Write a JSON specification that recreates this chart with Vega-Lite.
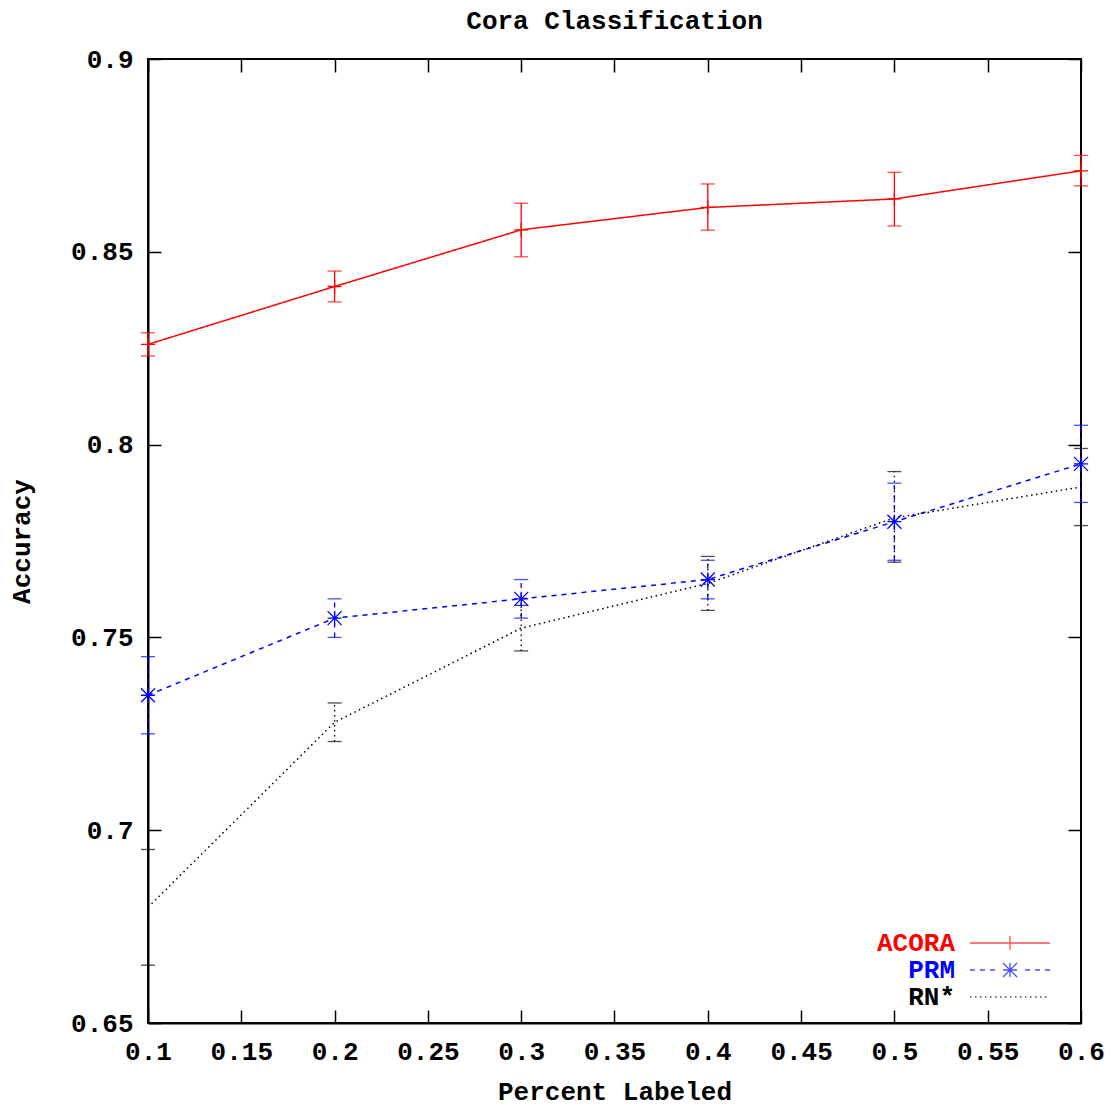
{
  "$schema": "https://vega.github.io/schema/vega-lite/v6.json",
  "width": 933,
  "height": 964,
  "autosize": {"type": "none"},
  "padding": {"left": 148, "top": 59, "right": 38, "bottom": 85},
  "background": "white",
  "title": {"text": "Cora Classification", "font": "Liberation Mono", "fontSize": 26, "fontWeight": "bold", "color": "black", "anchor": "middle", "offset": 12},
  "config": {
    "view": {"stroke": "black", "strokeWidth": 2},
    "axis": {"labelFont": "Liberation Mono", "labelFontSize": 26, "labelFontWeight": "bold", "labelColor": "black", "titleFont": "Liberation Mono", "titleFontSize": 26, "titleFontWeight": "bold", "titleColor": "black", "grid": false, "tickColor": "black", "tickWidth": 1.5, "domainColor": "black", "domainWidth": 2}
  },
  "data": {"values": [
    {"series": "ACORA", "x": 0.1, "y": 0.826, "lo": 0.823, "hi": 0.829},
    {"series": "ACORA", "x": 0.2, "y": 0.841, "lo": 0.837, "hi": 0.845},
    {"series": "ACORA", "x": 0.3, "y": 0.8557, "lo": 0.8487, "hi": 0.8626},
    {"series": "ACORA", "x": 0.4, "y": 0.8615, "lo": 0.8556, "hi": 0.8676},
    {"series": "ACORA", "x": 0.5, "y": 0.8637, "lo": 0.8567, "hi": 0.8706},
    {"series": "ACORA", "x": 0.6, "y": 0.871, "lo": 0.8671, "hi": 0.875},
    {"series": "PRM", "x": 0.1, "y": 0.735, "lo": 0.725, "hi": 0.745},
    {"series": "PRM", "x": 0.2, "y": 0.755, "lo": 0.75, "hi": 0.76},
    {"series": "PRM", "x": 0.3, "y": 0.76, "lo": 0.755, "hi": 0.765},
    {"series": "PRM", "x": 0.4, "y": 0.765, "lo": 0.76, "hi": 0.77},
    {"series": "PRM", "x": 0.5, "y": 0.78, "lo": 0.77, "hi": 0.79},
    {"series": "PRM", "x": 0.6, "y": 0.795, "lo": 0.785, "hi": 0.805},
    {"series": "RN*", "x": 0.1, "y": 0.68, "lo": 0.665, "hi": 0.695},
    {"series": "RN*", "x": 0.2, "y": 0.728, "lo": 0.723, "hi": 0.733},
    {"series": "RN*", "x": 0.3, "y": 0.7524, "lo": 0.7465, "hi": 0.7583},
    {"series": "RN*", "x": 0.4, "y": 0.764, "lo": 0.757, "hi": 0.771},
    {"series": "RN*", "x": 0.5, "y": 0.781, "lo": 0.7695, "hi": 0.793},
    {"series": "RN*", "x": 0.6, "y": 0.789, "lo": 0.779, "hi": 0.799}
  ]},
  "resolve": {"axis": {"x": "independent", "y": "independent"}},
  "layer": [
    {
      "mark": {"type": "line", "strokeWidth": 1.5},
      "encoding": {
        "x": {"field": "x", "type": "quantitative", "title": "Percent Labeled",
          "scale": {"domain": [0.1, 0.6], "nice": false, "zero": false},
          "axis": {"orient": "bottom", "values": [0.1, 0.15, 0.2, 0.25, 0.3, 0.35, 0.4, 0.45, 0.5, 0.55, 0.6], "format": ".2~f", "tickSize": -13, "labelPadding": 28, "titlePadding": 14, "labelFlush": false}},
        "y": {"field": "y", "type": "quantitative", "title": "Accuracy",
          "scale": {"domain": [0.65, 0.9], "nice": false, "zero": false},
          "axis": {"orient": "left", "values": [0.65, 0.7, 0.75, 0.8, 0.85, 0.9], "format": ".2~f", "tickSize": -13, "labelPadding": 28, "titlePadding": 36, "labelFlush": false}},
        "color": {"field": "series", "type": "nominal",
          "scale": {"domain": ["ACORA", "PRM", "RN*"], "range": ["#ff0000", "#0000ff", "#000000"]},
          "legend": {"title": null, "orient": "none", "legendX": 848, "legendY": 870, "padding": 0, "offset": 0,
            "rowPadding": -2, "symbolSize": 676, "symbolStrokeWidth": 1.3, "symbolFillColor": "transparent", "symbolOffset": 0,
            "symbolType": {"expr": "datum.value == 'ACORA' ? 'M-3.077,0H3.077M0,-0.538V0.538' : datum.value == 'PRM' ? 'M-3.077,0H-2.692M-2.308,0H-1.923M-1.538,0H-1.154M1.154,0H1.538M1.923,0H2.308M2.692,0H3.077M-0.538,0H0.538M0,-0.538V0.538M-0.538,-0.538L0.538,0.538M-0.538,0.538L0.538,-0.538' : 'M-3.077,0H3.077'"},
            "symbolDash": {"expr": "datum.value == 'RN*' ? [1.5, 3.5] : [1, 0]"},
            "labelFont": "Liberation Mono", "labelFontSize": 26, "labelFontWeight": "bold", "labelAlign": "right", "labelOffset": -69,
            "labelColor": {"expr": "datum.value == 'ACORA' ? '#ff0000' : datum.value == 'PRM' ? '#0000ff' : '#000000'"}}},
        "strokeDash": {"field": "series", "type": "nominal", "legend": null,
          "scale": {"domain": ["PRM", "ACORA", "RN*"], "range": [[5, 5], [1, 0], [1.5, 3.5]]}}
      }
    },
    {
      "mark": {"type": "rule", "strokeWidth": 1.3},
      "encoding": {
        "x": {"field": "x", "type": "quantitative", "axis": null},
        "y": {"field": "lo", "type": "quantitative", "axis": null},
        "y2": {"field": "hi"},
        "color": {"field": "series", "type": "nominal"},
        "strokeDash": {"field": "series", "type": "nominal", "legend": null}
      }
    },
    {
      "mark": {"type": "tick", "orient": "horizontal", "size": 14, "thickness": 1.3},
      "encoding": {
        "x": {"field": "x", "type": "quantitative", "axis": null},
        "y": {"field": "lo", "type": "quantitative", "axis": null},
        "color": {"field": "series", "type": "nominal"}
      }
    },
    {
      "mark": {"type": "tick", "orient": "horizontal", "size": 14, "thickness": 1.3},
      "encoding": {
        "x": {"field": "x", "type": "quantitative", "axis": null},
        "y": {"field": "hi", "type": "quantitative", "axis": null},
        "color": {"field": "series", "type": "nominal"}
      }
    },
    {
      "mark": {"type": "point", "filled": false, "strokeWidth": 1.3, "size": 196, "opacity": 1},
      "encoding": {
        "x": {"field": "x", "type": "quantitative",
          "axis": {"orient": "top", "values": [0.1, 0.15, 0.2, 0.25, 0.3, 0.35, 0.4, 0.45, 0.5, 0.55, 0.6], "labels": false, "title": null, "tickSize": -13, "domain": false}},
        "y": {"field": "y", "type": "quantitative",
          "axis": {"orient": "right", "values": [0.65, 0.7, 0.75, 0.8, 0.85, 0.9], "labels": false, "title": null, "tickSize": -13, "domain": false}},
        "color": {"field": "series", "type": "nominal"},
        "shape": {"field": "series", "type": "nominal", "legend": null,
          "scale": {"domain": ["RN*", "ACORA", "PRM"], "range": ["M0,0L0,0", "M-1,0H1M0,-1V1", "M-1,0H1M0,-1V1M-1,-1L1,1M-1,1L1,-1"]}}
      }
    }
  ]
}
